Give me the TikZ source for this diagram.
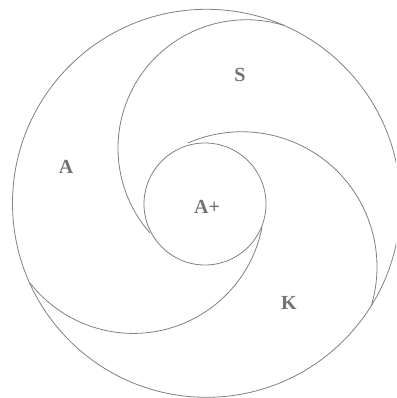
\documentclass[tikz,border=0pt]{standalone}
\usepackage{fontspec}
\setmainfont{Liberation Serif}
\begin{document}
\begin{tikzpicture}[
        x=1pt, y=1pt,
        ring/.style={draw=black!50, line width=0.8pt},
        region/.style={font=\bfseries\fontsize{20}{20}\selectfont, text=black!55},
    ]
    \useasboundingbox (0,0) rectangle (396,398);
    \clip (0,0) rectangle (396,398);
    \coordinate (outer) at (206.5,194.7);
    \coordinate (inner) at (205,194);
    \coordinate (cS) at (246.4,249.8);
    \coordinate (cK) at (241.8,131);
    \coordinate (cA) at (133.3,195.7);
    \draw[ring] (outer) circle[radius=194];
    \draw[ring] (inner) circle[radius=61];
    % spiral arcs
    \draw[ring] ([shift={(73:128.4)}]cS) arc[start angle=73, end angle=221.3, radius=128.4];
    \draw[ring] ([shift={(113.5:135.2)}]cK) arc[start angle=113.5, end angle=-16.5, radius=135.2];
    \draw[ring] ([shift={(-10.9:131.1)}]cA) arc[start angle=-10.9, end angle=-142, radius=131.1];
    \node[region] (S) at (240,323) {S};
    \node[region] (A) at (66,231) {A};
    \node[region] (Aplus) at (207,191) {A+};
    \node[region] (K) at (289,95) {K};
\end{tikzpicture}
\end{document}
